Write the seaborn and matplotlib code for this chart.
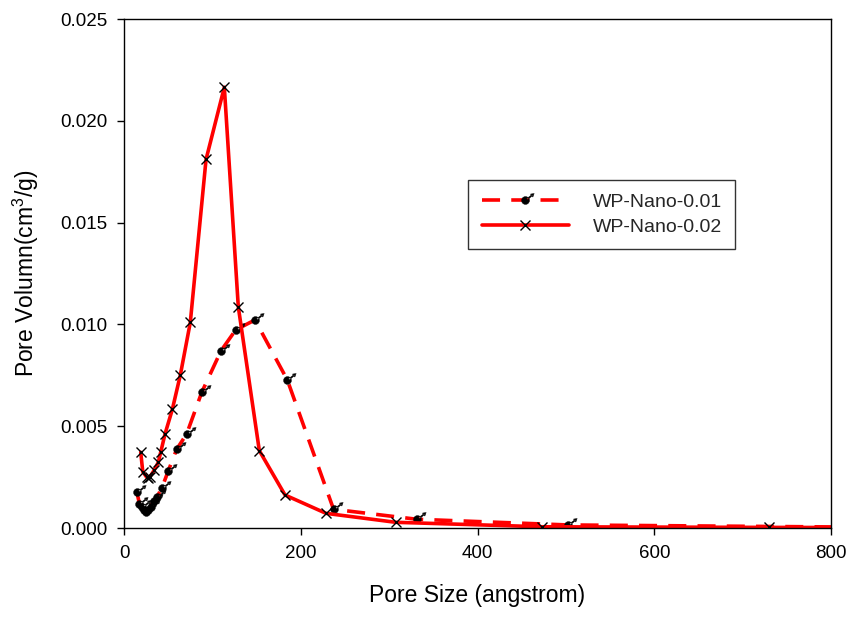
import numpy as np
import pandas as pd
import matplotlib
matplotlib.use("Agg")
import matplotlib.pyplot as plt
from matplotlib.path import Path
from matplotlib.ticker import FormatStrFormatter, MultipleLocator
import seaborn as sns

# === Data ===
size_001 = [14.4, 17.5, 19.8, 22.1, 24.3, 27.2, 30.0, 33.4, 36.8, 42.7, 50.1,
            59.6, 70.9, 87.9, 109.8, 126.4, 148.2, 184.8, 237.1, 331.2, 502.4, 900.0]
vol_001 = [0.00179, 0.00118, 0.00101, 0.00088, 0.00081, 0.00086, 0.00103, 0.00133,
           0.00150, 0.00195, 0.00281, 0.00387, 0.00462, 0.00666, 0.00871, 0.00973,
           0.01022, 0.00727, 0.00092, 0.00043, 0.00015, 0.00002]

size_002 = [18.9, 21.2, 25.7, 27.5, 29.4, 34.3, 38.8, 41.5, 46.4, 54.7, 63.7, 75.0,
            92.8, 113.5, 129.3, 153.1, 182.2, 228.6, 307.4, 473.3, 730.0, 900.0]
vol_002 = [0.00372, 0.00277, 0.00249, 0.00246, 0.00252, 0.00285, 0.00323, 0.00372,
           0.00462, 0.00583, 0.00751, 0.01010, 0.01810, 0.02165, 0.01087, 0.00380,
           0.00162, 0.00072, 0.00028, 0.00006, 0.00003, 0.00002]

labels = ["WP-Nano-0.01", "WP-Nano-0.02"]

df1 = pd.DataFrame({"size": size_001, "vol": vol_001})
df2 = pd.DataFrame({"size": size_002, "vol": vol_002})

# === Theme ===
sns.set_theme(style="white")
plt.rcParams["font.family"] = ["Liberation Sans", "DejaVu Sans"]
plt.rcParams["mathtext.fontset"] = "custom"
plt.rcParams["mathtext.rm"] = "Liberation Sans"


# === Dot-with-arrow marker (SigmaPlot style) ===
def dot_arrow_marker():
    verts, codes = [], []
    t = np.linspace(0, 2 * np.pi, 24)
    r = 3.9
    circ = np.column_stack([r * np.cos(t), r * np.sin(t)])
    verts += circ.tolist()
    codes += [Path.MOVETO] + [Path.LINETO] * (len(circ) - 2) + [Path.CLOSEPOLY]
    # shaft
    d = np.array([8.6, 6.9])
    u = d / np.linalg.norm(d)
    n = np.array([-u[1], u[0]]) * 0.65
    p0 = u * 2.0
    p1 = d - u * 2.5
    shaft = [p0 + n, p1 + n, p1 - n, p0 - n, p0 + n]
    verts += [list(p) for p in shaft]
    codes += [Path.MOVETO, Path.LINETO, Path.LINETO, Path.LINETO, Path.CLOSEPOLY]
    # head
    base = d - u * 3.2
    w = np.array([-u[1], u[0]]) * 1.9
    head = [d, base + w, base - w, d]
    verts += [list(p) for p in head]
    codes += [Path.MOVETO, Path.LINETO, Path.LINETO, Path.CLOSEPOLY]
    return Path(verts, codes)


fig = plt.figure(figsize=(8.53, 6.19), dpi=100)
ax = fig.add_axes([0.1454, 0.147, 0.8288, 0.8223])

sns.lineplot(data=df1, x="size", y="vol", ax=ax, sort=False, estimator=None,
             color="red", linewidth=2.6, linestyle=(0, (5.0, 3.1)),
             marker=dot_arrow_marker(), markersize=12.5, markerfacecolor="black",
             markeredgecolor="black", markeredgewidth=0.3, label=labels[0])
sns.lineplot(data=df2, x="size", y="vol", ax=ax, sort=False, estimator=None,
             color="red", linewidth=2.6, linestyle="-",
             marker="x", markersize=7.5, markerfacecolor="black",
             markeredgecolor="black", markeredgewidth=1.0, label=labels[1])

ax.set_xlim(0, 800)
ax.set_ylim(0, 0.025)
ax.xaxis.set_major_locator(MultipleLocator(200))
ax.yaxis.set_major_locator(MultipleLocator(0.005))
ax.yaxis.set_major_formatter(FormatStrFormatter("%.3f"))

for sp in ax.spines.values():
    sp.set_color("black")
    sp.set_linewidth(1.0)
ax.tick_params(axis="both", which="major", direction="out", length=5, width=1.0,
               color="black", labelsize=13.5, labelcolor="black", pad=7,
               left=True, bottom=True, top=False, right=False)

ax.set_xlabel("Pore Size (angstrom)", fontsize=16.5, color="black", labelpad=16)
ax.set_ylabel("Pore Volumn(cm$^3$/g)", fontsize=16.5, color="black", labelpad=14)

leg = ax.legend(loc="upper left", bbox_to_anchor=(468 / 853, 1 - 180 / 619),
                bbox_transform=fig.transFigure, fontsize=14, frameon=True,
                fancybox=False, shadow=False, handlelength=4.5,
                handletextpad=1.2, borderpad=0.7, labelspacing=0.35,
                borderaxespad=0)
leg.get_frame().set_edgecolor("black")
leg.get_frame().set_linewidth(1.0)

plt.savefig("out.png", dpi=100)
plt.close()
